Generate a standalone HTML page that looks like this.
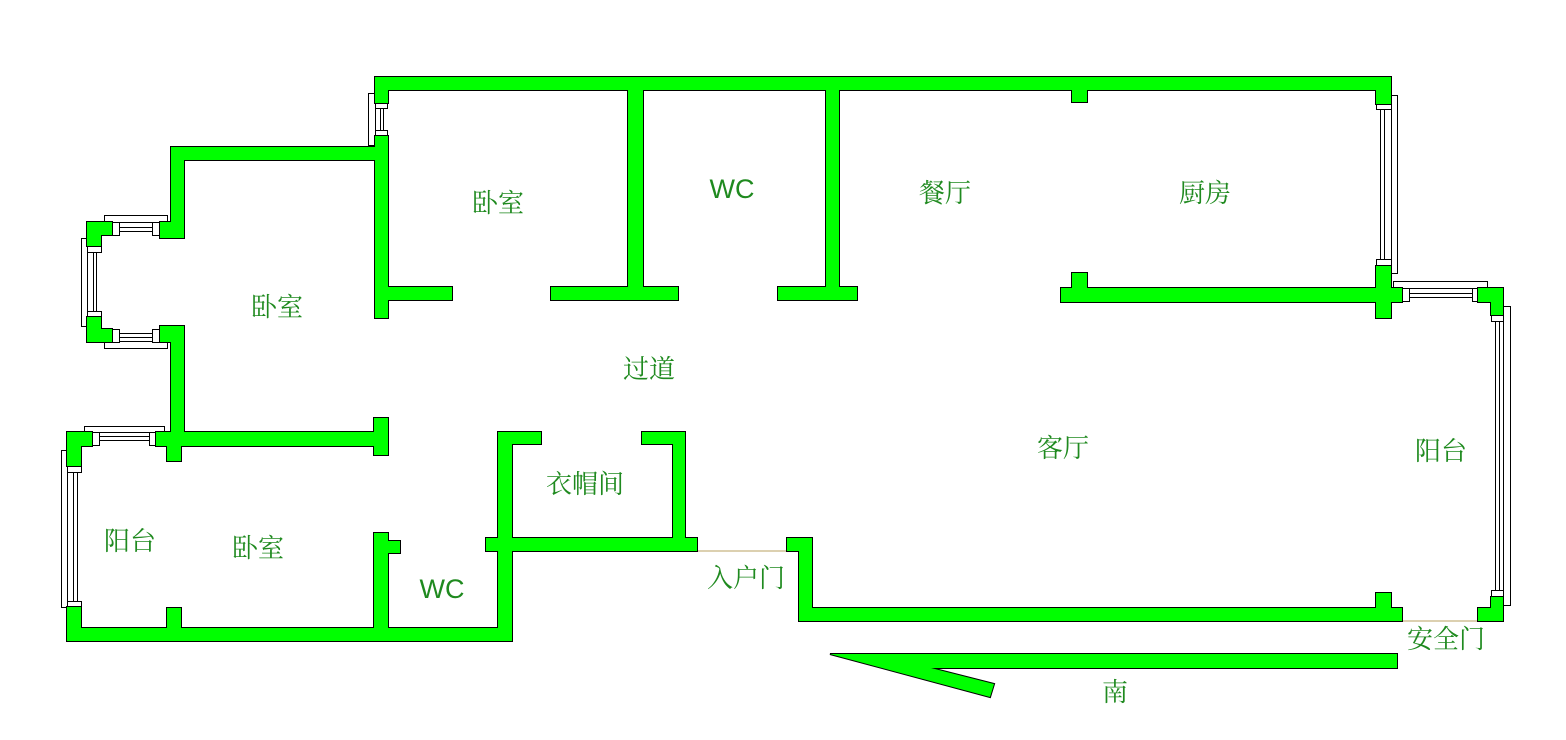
<!DOCTYPE html>
<html><head><meta charset="utf-8"><style>
html,body{margin:0;padding:0;background:#fff;}
svg{display:block;}
text{font-family:"Liberation Serif","Noto Serif CJK SC",serif;fill:#1f8a1f;font-size:26px;text-anchor:middle;}
text.wc{font-family:"Liberation Sans",sans-serif;font-size:27px;}
</style></head><body>
<svg width="1566" height="740" viewBox="0 0 1566 740" xmlns="http://www.w3.org/2000/svg">
<defs>
<g id="walls">
<rect x="375" y="77" width="1016" height="13"/>
<rect x="375" y="77" width="13" height="26"/>
<rect x="375" y="136" width="13" height="182"/>
<rect x="388" y="287" width="64" height="13"/>
<rect x="628" y="90" width="15" height="200"/>
<rect x="551" y="287" width="127" height="13"/>
<rect x="826" y="90" width="13" height="200"/>
<rect x="778" y="287" width="79" height="13"/>
<rect x="1072" y="90" width="15" height="12"/>
<rect x="1376" y="77" width="15" height="27"/>
<rect x="1376" y="266" width="15" height="52"/>
<rect x="1061" y="288" width="341" height="14"/>
<rect x="1072" y="273" width="15" height="16"/>
<rect x="1478" y="288" width="25" height="14"/>
<rect x="1491" y="288" width="12" height="27"/>
<rect x="1491" y="597" width="12" height="24"/>
<rect x="1478" y="608" width="25" height="13"/>
<rect x="799" y="608" width="603" height="13"/>
<rect x="1376" y="593" width="15" height="16"/>
<rect x="799" y="538" width="13" height="80"/>
<rect x="787" y="538" width="25" height="13"/>
<rect x="498" y="432" width="14" height="209"/>
<rect x="498" y="432" width="43" height="12"/>
<rect x="642" y="432" width="43" height="12"/>
<rect x="673" y="432" width="12" height="110"/>
<rect x="486" y="538" width="211" height="13"/>
<rect x="374" y="533" width="14" height="100"/>
<rect x="388" y="541" width="12" height="12"/>
<rect x="67" y="628" width="445" height="13"/>
<rect x="167" y="608" width="14" height="22"/>
<rect x="67" y="432" width="14" height="34"/>
<rect x="67" y="432" width="25" height="14"/>
<rect x="156" y="432" width="232" height="14"/>
<rect x="374" y="418" width="14" height="37"/>
<rect x="167" y="444" width="14" height="17"/>
<rect x="67" y="607" width="14" height="30"/>
<rect x="171" y="147" width="217" height="13"/>
<rect x="171" y="147" width="13" height="91"/>
<rect x="160" y="222" width="24" height="16"/>
<rect x="87" y="222" width="25" height="13"/>
<rect x="87" y="222" width="14" height="24"/>
<rect x="87" y="317" width="14" height="25"/>
<rect x="87" y="329" width="25" height="13"/>
<rect x="160" y="326" width="24" height="16"/>
<rect x="171" y="326" width="13" height="120"/>
<polygon points="830,654 1397,654 1397,668 931,668 994,684 990,697"/>
</g>
</defs>
<g fill="#fff" stroke="#000" stroke-width="1">
<rect x="368.5" y="93.5" width="7" height="52"/>
<rect x="375.5" y="102.5" width="12" height="6"/><rect x="375.5" y="130.5" width="12" height="6"/>
<line x1="380.5" y1="108" x2="380.5" y2="130"/><line x1="383.5" y1="108" x2="383.5" y2="130"/>
<rect x="104.5" y="215.5" width="63" height="7"/>
<rect x="112.5" y="222.5" width="7" height="13"/><rect x="152.5" y="222.5" width="7" height="13"/>
<line x1="119" y1="227.5" x2="152" y2="227.5"/><line x1="119" y1="231.5" x2="152" y2="231.5"/>
<rect x="104.5" y="341.5" width="63" height="7"/>
<rect x="112.5" y="329.5" width="7" height="13"/><rect x="152.5" y="329.5" width="7" height="13"/>
<line x1="119" y1="333.5" x2="152" y2="333.5"/><line x1="119" y1="337.5" x2="152" y2="337.5"/>
<rect x="81.5" y="238.5" width="6" height="88"/>
<rect x="87.5" y="246.5" width="14" height="6"/><rect x="87.5" y="311.5" width="14" height="6"/>
<line x1="93.5" y1="252" x2="93.5" y2="311"/><line x1="96.5" y1="252" x2="96.5" y2="311"/>
<rect x="84.5" y="426.5" width="80" height="6"/>
<rect x="92.5" y="432.5" width="7" height="13"/><rect x="149.5" y="432.5" width="7" height="13"/>
<line x1="99" y1="436.5" x2="149" y2="436.5"/><line x1="99" y1="440.5" x2="149" y2="440.5"/>
<rect x="61.5" y="450.5" width="6" height="157"/>
<rect x="67.5" y="466.5" width="14" height="6"/><rect x="67.5" y="601.5" width="14" height="6"/>
<line x1="73.5" y1="472" x2="73.5" y2="601"/><line x1="77.5" y1="472" x2="77.5" y2="601"/>
<rect x="1391.5" y="95.5" width="6" height="178"/>
<rect x="1376.5" y="103.5" width="15" height="6"/><rect x="1376.5" y="259.5" width="15" height="6"/>
<line x1="1380.5" y1="109" x2="1380.5" y2="259"/><line x1="1384.5" y1="109" x2="1384.5" y2="259"/>
<rect x="1393.5" y="281.5" width="94" height="7"/>
<rect x="1402.5" y="288.5" width="7" height="13"/><rect x="1472.5" y="288.5" width="7" height="13"/>
<line x1="1409" y1="293.5" x2="1472" y2="293.5"/><line x1="1409" y1="297.5" x2="1472" y2="297.5"/>
<rect x="1503.5" y="306.5" width="7" height="299"/>
<rect x="1491.5" y="315.5" width="12" height="6"/><rect x="1491.5" y="590.5" width="12" height="6"/>
<line x1="1495.5" y1="321" x2="1495.5" y2="590"/><line x1="1499.5" y1="321" x2="1499.5" y2="590"/>
</g>
<line x1="697" y1="551" x2="787" y2="551" stroke="#b8a060" stroke-width="1"/>
<line x1="1402" y1="621" x2="1478" y2="621" stroke="#b8a060" stroke-width="1"/>
<use href="#walls" fill="#000" stroke="#000" stroke-width="2"/>
<use href="#walls" fill="#00ff00" stroke="none"/>
<text x="498" y="212">卧室</text>
<text class="wc" x="732" y="198">WC</text>
<text x="277" y="316">卧室</text>
<text x="649" y="378">过道</text>
<text x="945" y="202">餐厅</text>
<text x="1205" y="202">厨房</text>
<text x="1063" y="457">客厅</text>
<text x="1441" y="460">阳台</text>
<text x="585" y="493">衣帽间</text>
<text x="130" y="550">阳台</text>
<text x="258" y="557">卧室</text>
<text class="wc" x="442" y="598">WC</text>
<text x="746" y="587">入户门</text>
<text x="1446" y="648">安全门</text>
<text x="1115" y="701">南</text>
</svg>
</body></html>
